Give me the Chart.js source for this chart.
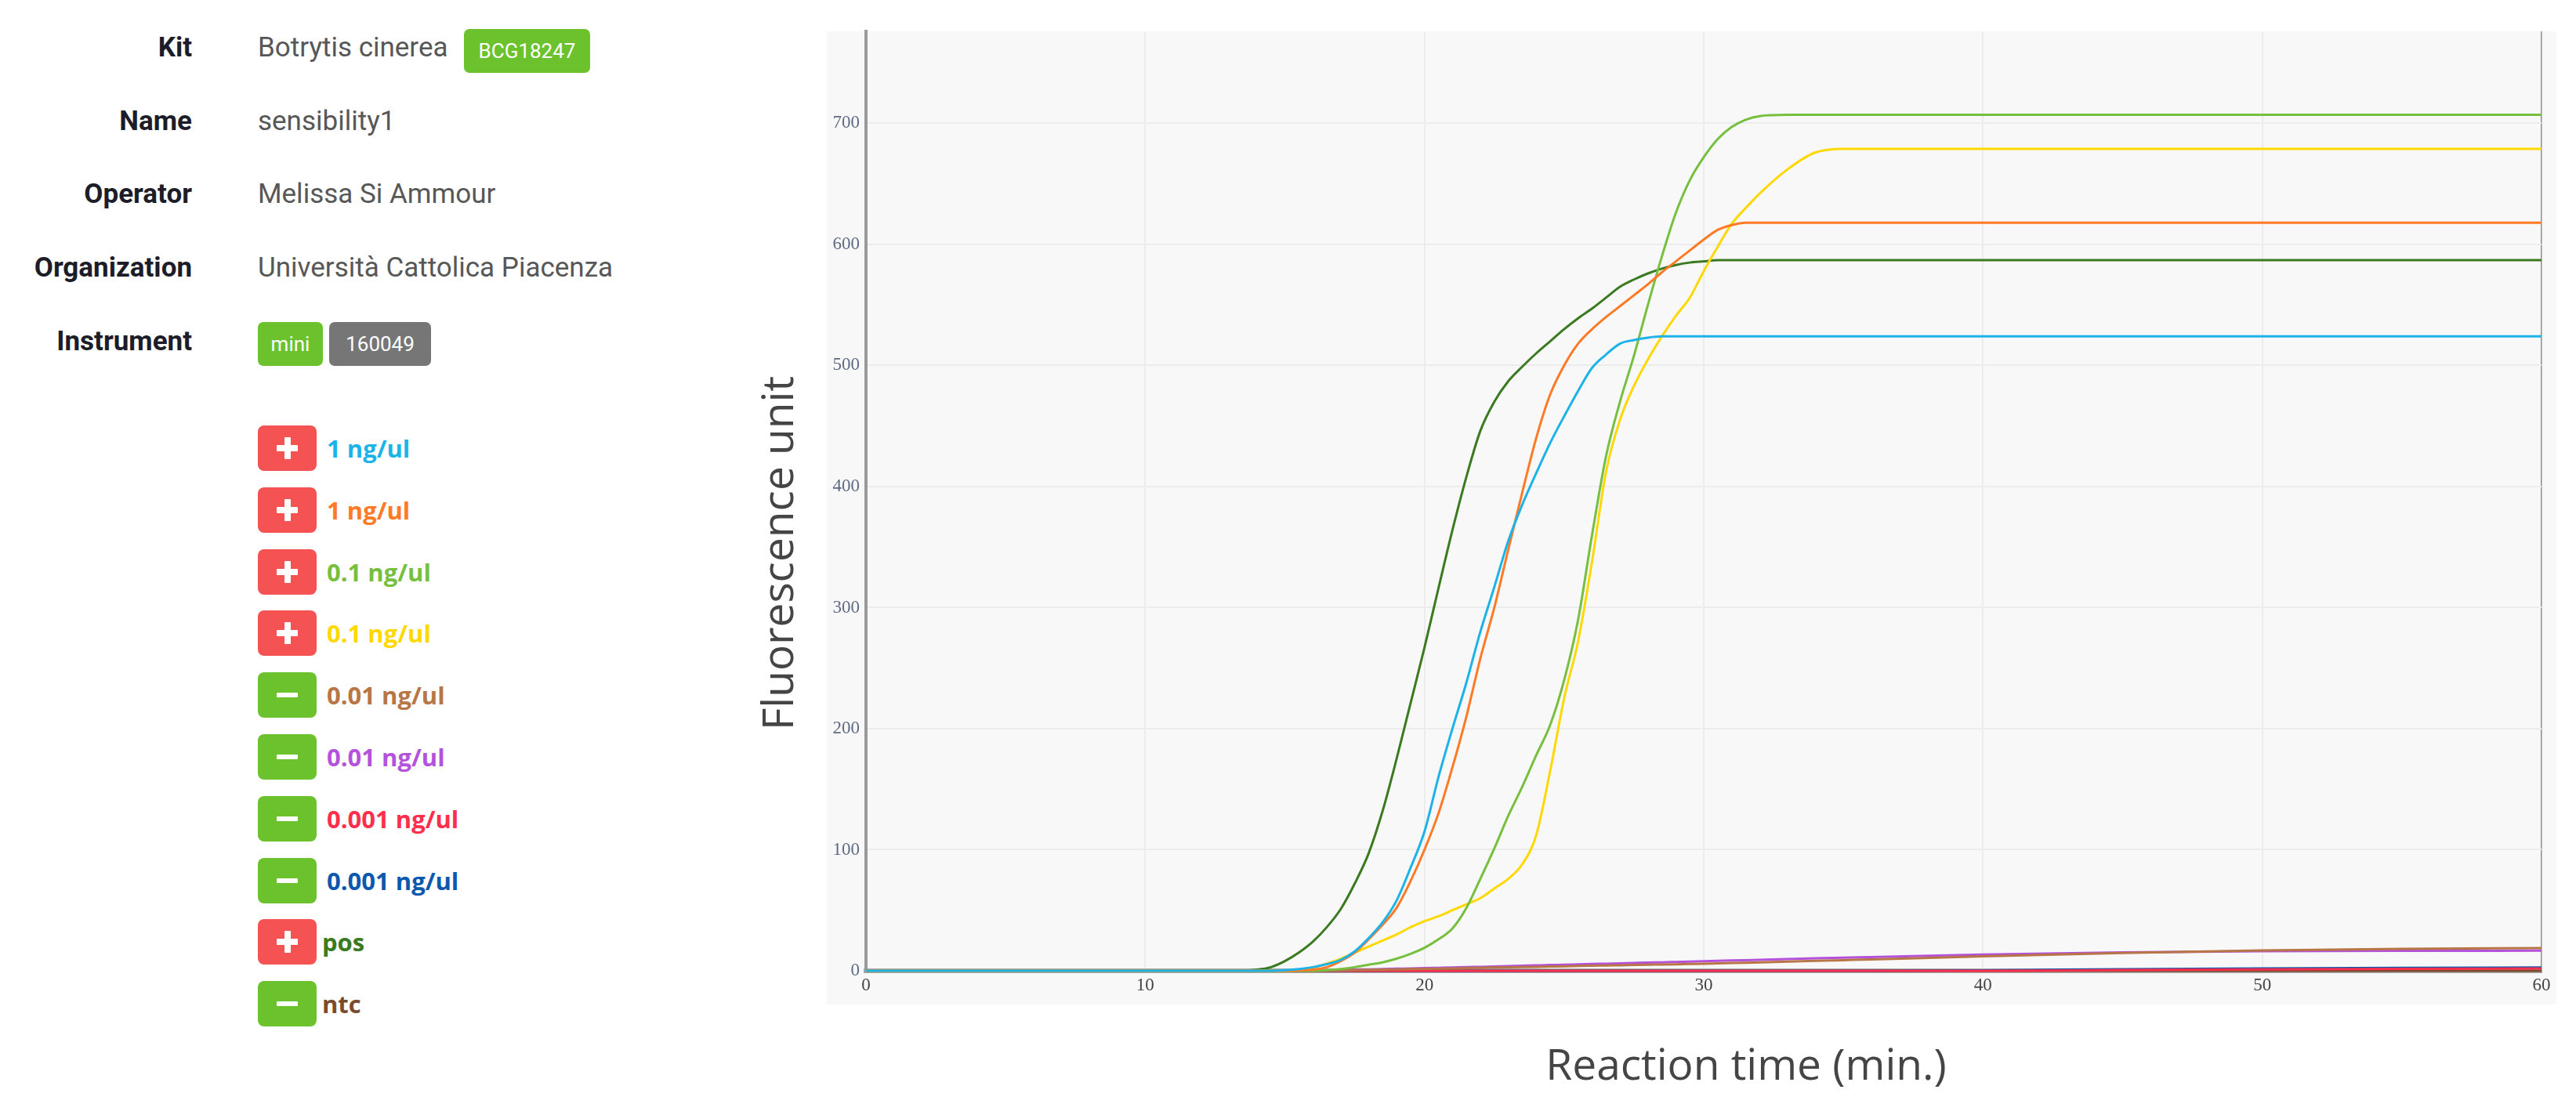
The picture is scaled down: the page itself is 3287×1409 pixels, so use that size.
<!DOCTYPE html>
<html>
<head>
<meta charset="utf-8">
<title>Botrytis cinerea - sensibility1</title>
<script src="https://cdn.jsdelivr.net/npm/chart.js@4.4.1/dist/chart.umd.min.js"></script>
<style>
  html, body { margin: 0; padding: 0; background: #fff; }
  body { width: 3287px; height: 1409px; position: relative; overflow: hidden; font-family: Roboto, "Noto Sans", sans-serif; }
  .lbl { position: absolute; left: 0; width: 245px; text-align: right; font-weight: 700; font-size: 35px; color: #1d1d29; height: 56px; line-height: 56px; }
  .val { position: absolute; left: 329px; font-size: 35px; color: #575757; height: 56px; line-height: 56px; white-space: nowrap; }
  .tag { position: absolute; height: 56px; line-height: 56px; border-radius: 7px; color: #fff; font-size: 26px; text-align: center; }
  .call { position: absolute; left: 329px; width: 75px; height: 58px; border-radius: 8px; }
  .call.pos { background: #f55353; }
  .call.neg { background: #6cc22c; }
  .call i { position: absolute; background: #fff; border-radius: 1px; }
  .call i.h { left: 24px; top: 25px; width: 27px; height: 8px; }
  .call i.v { left: 34px; top: 15px; width: 8px; height: 28px; }
  .call.neg i.h { top: 26px; height: 6px; }
  .name { position: absolute; left: 417px; height: 58px; line-height: 58px; font-family: "Open Sans", sans-serif; font-weight: 700; font-size: 31px; white-space: nowrap; }
  #wrap { position: absolute; left: 900px; top: 0; width: 2387px; height: 1409px; }
</style>
</head>
<body>
<div class="lbl" style="top:33px">Kit</div>
<div class="val" style="top:33px">Botrytis cinerea</div>
<div class="tag" style="left:592px;top:37px;width:161px;background:#6cc22c">BCG18247</div>
<div class="lbl" style="top:127px">Name</div>
<div class="val" style="top:127px">sensibility1</div>
<div class="lbl" style="top:220px">Operator</div>
<div class="val" style="top:220px">Melissa Si Ammour</div>
<div class="lbl" style="top:314px">Organization</div>
<div class="val" style="top:314px">Università Cattolica Piacenza</div>
<div class="lbl" style="top:408px">Instrument</div>
<div class="tag" style="left:329px;top:411px;width:83px;background:#6cc22c">mini</div>
<div class="tag" style="left:420px;top:411px;width:130px;background:#767676">160049</div>
<div id="legend"></div>
<div id="wrap"><canvas id="chartAmp"></canvas></div>

<script>
// reaction time grid (min.)
const MINUTES = [0, 5, 10, 13,
  14, 14.5, 15, 15.5, 16, 16.5, 17, 17.5,
  18, 18.5, 19, 19.5, 20, 20.5, 21, 21.5,
  22, 22.5, 23, 23.5, 24, 24.5, 25, 25.5,
  26, 26.5, 27, 27.5, 28, 28.5, 29, 29.5,
  30, 30.5, 31, 31.5, 32,
  33, 34, 35, 36,
  40, 45, 50, 55, 60];

const X_TICKS = [0, 10, 20, 30, 40, 50, 60];
const Y_TICKS = [0, 100, 200, 300, 400, 500, 600, 700];

// fluorescence unit per sample
const S_1NG_A = [0, 0, 0, 0,
  0, 0, 0.5, 1.5, 3, 5.5, 9, 16,
  27, 40, 58, 85, 115, 160, 200, 238,
  280, 317, 355, 385, 411, 436, 458, 479,
  498, 509, 518, 521, 523, 524, 524, 524,
  524, 524, 524, 524, 524,
  524, 524, 524, 524,
  524, 524, 524, 524, 524];
const S_1NG_B = [0, 0, 0, 0,
  0, 0, 0, 0.5, 1, 3, 8, 15,
  26, 38, 52, 74, 100, 130, 168, 210,
  258, 300, 348, 395, 440, 476, 500, 518,
  530, 540, 549, 558, 567, 577, 586, 595,
  604, 612, 616, 618, 618,
  618, 618, 618, 618,
  618, 618, 618, 618, 618];
const S_01NG_A = [0, 0, 0, 0,
  0, 0, 0, 0, 0, 0.5, 1.5, 3,
  5, 7, 10, 14, 19, 26, 35, 52,
  76, 101, 128, 152, 178, 203, 240, 290,
  360, 425, 470, 508, 550, 590, 626, 653,
  672, 687, 697, 703, 706,
  707, 707, 707, 707,
  707, 707, 707, 707, 707];
const S_01NG_B = [0, 0, 0, 0,
  0, 0, 0, 0.5, 2.5, 6, 10, 15,
  20, 25, 30, 36, 41, 45, 50, 55,
  60, 68, 76, 88, 112, 165, 225, 272,
  338, 412, 455, 483, 505, 524, 541, 556,
  578, 598, 617, 630, 642,
  662, 676, 679, 679,
  679, 679, 679, 679, 679];
const S_001NG_A = [0, 0, 0, 0,
  0, 0, 0, 0, 0, 0.2, 0.4, 0.6,
  0.8, 1.0, 1.2, 1.4, 1.6, 1.8, 2.0, 2.3,
  2.5, 2.7, 2.9, 3.1, 3.3, 3.5, 3.7, 4.0,
  4.2, 4.4, 4.6, 4.8, 5.0, 5.2, 5.4, 5.6,
  5.8, 6.1, 6.4, 6.7, 7.0,
  7.6, 8.2, 8.8, 9.4,
  12.0, 14.8, 16.8, 18.1, 18.8];
const S_001NG_B = [0, 0, 0, 0,
  0, 0, 0, 0, 0.2, 0.4, 0.7, 1.0,
  1.2, 1.5, 1.7, 2.0, 2.2, 2.5, 2.8, 3.0,
  3.3, 3.6, 3.9, 4.2, 4.5, 4.8, 5.0, 5.3,
  5.6, 5.9, 6.2, 6.5, 6.8, 7.0, 7.3, 7.6,
  7.9, 8.2, 8.5, 8.8, 9.1,
  9.7, 10.3, 10.9, 11.4,
  13.5, 15.2, 16.1, 16.5, 16.6];
const S_0001NG_A = [0, 0, 0, 0,
  0, 0, 0, 0, 0, 0, 0, 0,
  0, 0, 0, 0, 0, 0, 0, 0,
  0, 0, 0, 0, 0, 0, 0, 0,
  0, 0, 0, 0, 0, 0, 0, 0,
  0, 0, 0, 0, 0,
  0, 0, 0, 0,
  0, 0.6, 1.2, 1.6, 1.9];
const S_0001NG_B = [0, 0, 0, 0,
  0, 0, 0, 0, 0, 0, 0, 0,
  0, 0, 0, 0, 0, 0, 0, 0,
  0, 0, 0, 0, 0, 0, 0, 0,
  0, 0, 0, 0, 0, 0, 0, 0,
  0, 0, 0, 0, 0,
  0, 0, 0, 0,
  0.4, 1.3, 2.0, 2.5, 2.7];
const S_POS = [0, 0, 0, 0,
  1, 3, 8, 15, 24, 36, 51, 72,
  97, 132, 175, 221, 267, 316, 364, 408,
  446, 470, 487, 499, 510, 520, 530, 539,
  547, 556, 565, 571, 576, 580, 583, 585,
  586, 587, 587, 587, 587,
  587, 587, 587, 587,
  587, 587, 587, 587, 587];
const S_NTC = [0, 0, 0, 0,
  0, 0, 0, 0, 0, 0, 0, 0,
  0, 0, 0, 0, 0, 0, 0, 0,
  0, 0, 0, 0, 0, 0, 0, 0,
  0, 0, 0, 0, 0, 0, 0, 0,
  0, 0, 0, 0, 0,
  0, 0, 0, 0,
  0, 0, 0, 0, 0];

const SERIES = [S_1NG_A, S_1NG_B, S_01NG_A, S_01NG_B, S_001NG_A, S_001NG_B, S_0001NG_A, S_0001NG_B, S_POS, S_NTC];
const SERIES_LABELS = ['1 ng/ul', '1 ng/ul', '0.1 ng/ul', '0.1 ng/ul', '0.01 ng/ul', '0.01 ng/ul', '0.001 ng/ul', '0.001 ng/ul', 'pos', 'ntc'];
const SERIES_CALLS = ['+', '+', '+', '+', '-', '-', '-', '-', '+', '-'];
const SERIES_COLORS = ['#1db3e8', '#ff7a26', '#76bf3f', '#ffd800', '#b87545', '#b552dc', '#ff2e4c', '#0b58ae', '#3a7a20', '#7a4b2c'];

// side legend (badge + coloured name)
const legend = document.getElementById('legend');
SERIES_LABELS.forEach((name, i) => {
  const top = 572 + 78.8 * i - 29;
  const call = document.createElement('div');
  call.className = 'call ' + (SERIES_CALLS[i] === '+' ? 'pos' : 'neg');
  call.style.top = top + 'px';
  call.innerHTML = SERIES_CALLS[i] === '+' ? '<i class="h"></i><i class="v"></i>' : '<i class="h"></i>';
  legend.appendChild(call);
  const label = document.createElement('div');
  label.className = 'name';
  label.style.top = top + 'px';
  label.style.color = SERIES_COLORS[i];
  if (i >= 8) label.style.left = '411px';
  label.textContent = name;
  legend.appendChild(label);
});

// grey plot panel + axis titles, placed from the chart area
const plotFrame = {
  id: 'plotFrame',
  beforeDraw(chart) {
    const { ctx, chartArea: a } = chart;
    ctx.save();
    ctx.fillStyle = '#f8f8f8';
    ctx.fillRect(a.left - 50, a.top, a.right - a.left + 69, a.bottom - a.top + 43);
    ctx.restore();
  },
  afterDraw(chart) {
    const { ctx, chartArea: a } = chart;
    ctx.save();
    ctx.fillStyle = '#454545';
    ctx.font = '55px "Open Sans", sans-serif';
    ctx.textAlign = 'center';
    ctx.textBaseline = 'alphabetic';
    ctx.fillText('Reaction time (min.)', a.left + 1123, a.bottom + 139);
    ctx.translate(a.left - 93, a.top + 666);
    ctx.rotate(-Math.PI / 2);
    ctx.fillText('Fluorescence unit', 0, 0);
    ctx.restore();
  }
};

new Chart(document.getElementById('chartAmp'), {
  type: 'line',
  data: {
    datasets: SERIES.map((vals, i) => ({
      label: SERIES_LABELS[i],
      data: MINUTES.map((m, j) => ({ x: m, y: vals[j] })),
      borderColor: SERIES_COLORS[i],
      borderWidth: 3,
      pointRadius: 0,
      cubicInterpolationMode: 'monotone',
      clip: false
    }))
  },
  options: {
    responsive: true,
    maintainAspectRatio: false,
    animation: false,
    layout: { padding: { left: 0, top: 40, right: 44, bottom: 0 } },
    plugins: { legend: { display: false }, tooltip: { enabled: false } },
    scales: {
      x: {
        type: 'linear',
        min: 0,
        max: 60,
        afterFit: (s) => { s.height = 170; },
        afterBuildTicks: (s) => { s.ticks = X_TICKS.map((v) => ({ value: v })); },
        grid: {
          color: (c) => (c.tick && c.tick.value === 60 ? '#8c8c8c' : '#ececec'),
          lineWidth: (c) => (c.tick && c.tick.value === 60 ? 1.5 : 2),
          drawTicks: false
        },
        border: { color: '#a9a9a9', width: 6 },
        ticks: { padding: 5, color: '#444', font: { family: '"Liberation Serif", serif', size: 23 } }
      },
      y: {
        min: 0,
        max: 776,
        afterFit: (s) => { s.width = 205; },
        afterBuildTicks: (s) => { s.ticks = Y_TICKS.map((v) => ({ value: v })); },
        grid: { color: '#ececec', lineWidth: 2, drawTicks: false },
        border: { color: '#9a9a9a', width: 4 },
        ticks: { padding: 8, color: '#5f6b82', font: { family: '"Liberation Serif", serif', size: 23 } }
      }
    }
  },
  plugins: [plotFrame]
});
</script>
</body>
</html>
